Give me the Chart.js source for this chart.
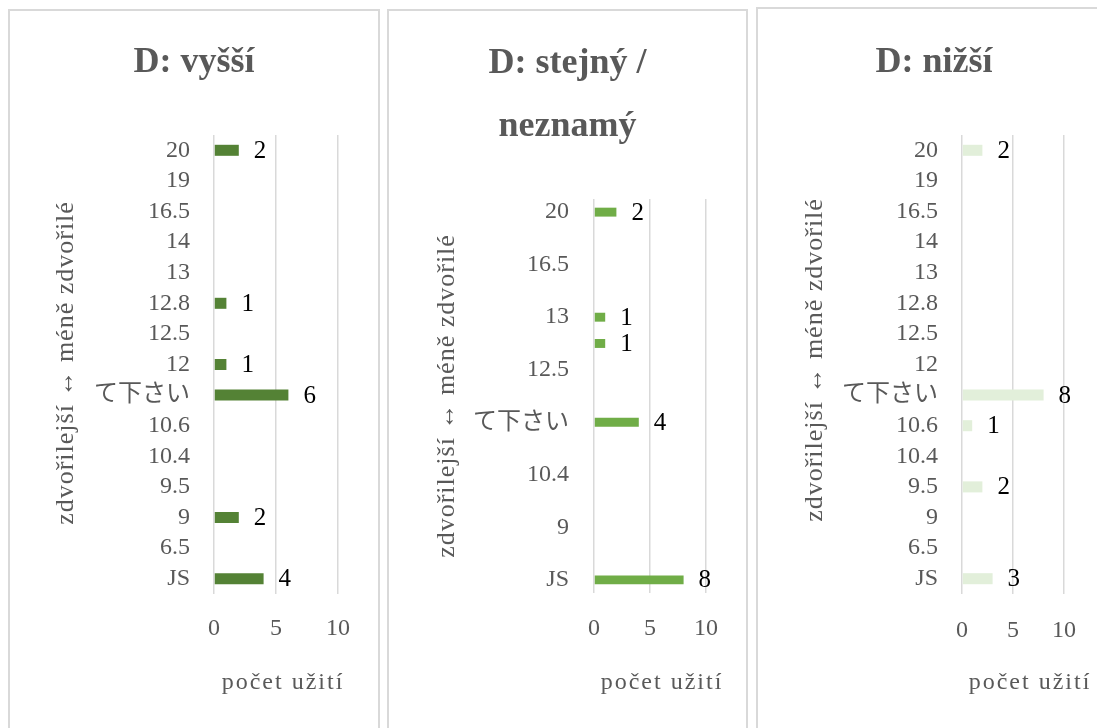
<!DOCTYPE html>
<html>
<head>
<meta charset="utf-8">
<script src="https://cdn.jsdelivr.net/npm/chart.js@4/dist/chart.umd.min.js"></script>
<style>
  body { margin: 0; background: #fff; overflow: hidden; width: 1097px; height: 728px; position: relative; }
  .panel { position: absolute; border: 2px solid #d9d9d9; }
  canvas { display: block; }
</style>
</head>
<body>
<div class="panel" style="left:8px;top:9px;"><canvas id="chartHigher" width="368" height="717"></canvas></div>
<div class="panel" style="left:387px;top:9px;"><canvas id="chartSame" width="357" height="717"></canvas></div>
<div class="panel" style="left:756px;top:7px;"><canvas id="chartLower" width="352" height="719"></canvas></div>
<script>
// categories (top to bottom) and usage counts for each group
const categories = ['20', '19', '16.5', '14', '13', '12.8', '12.5', '12', 'て下さい', '10.6', '10.4', '9.5', '9', '6.5', 'JS'];
const higherValues = [2, 0, 0, 0, 0, 1, 0, 1, 6, 0, 0, 0, 2, 0, 4];
const sameValues = [2, 0, 0, 0, 1, 1, 0, 0, 4, 0, 0, 0, 0, 0, 8];
const lowerValues = [2, 0, 0, 0, 0, 0, 0, 0, 8, 1, 0, 2, 0, 0, 3];
const xTicks = [0, 5, 10];

const titles = [['D: vyšší'], ['D: stejný /', 'neznamý'], ['D: nižší']];
const xTitle = 'počet užití';
const yTitle = 'zdvořilejší ↔ méně zdvořilé';

const serif = "'Liberation Serif', 'Noto Sans CJK JP', serif";
const grey = '#595959';

// value labels next to each bar
const valueLabels = {
  id: 'valueLabels',
  afterDatasetsDraw(chart) {
    const ctx = chart.ctx;
    const meta = chart.getDatasetMeta(0);
    const data = chart.data.datasets[0].data;
    ctx.save();
    ctx.font = '25px ' + serif;
    ctx.fillStyle = '#000';
    ctx.textAlign = 'left';
    ctx.textBaseline = 'middle';
    meta.data.forEach((bar, i) => {
      if (!data[i]) return;
      ctx.fillText(String(data[i]), bar.x + 15, bar.y + 1);
    });
    ctx.restore();
  }
};

// chart title and axis titles, drawn by hand so they sit where the original has them
const panelText = {
  id: 'panelText',
  afterDraw(chart, args, opts) {
    const ctx = chart.ctx;
    ctx.save();
    ctx.fillStyle = grey;
    ctx.textAlign = 'center';
    ctx.textBaseline = 'middle';

    ctx.font = 'bold 36px ' + serif;
    opts.title.forEach((line, i) => {
      ctx.fillText(line, chart.width / 2, opts.titleY + i * 63);
    });

    ctx.font = '24px ' + serif;
    ctx.letterSpacing = '2px';
    ctx.fillText(xTitle, opts.xTitleX, opts.xTitleY);

    ctx.translate(opts.yTitleX, opts.yTitleY);
    ctx.rotate(-Math.PI / 2);
    ctx.font = '26px ' + serif;
    ctx.letterSpacing = '1px';
    ctx.fillText(yTitle, 0, 0);
    ctx.restore();
  }
};

const makeChart = (id, cfg) => {
  new Chart(document.getElementById(id), {
    type: 'bar',
    data: {
      labels: categories,
      datasets: [{
        data: cfg.values,
        backgroundColor: cfg.color,
        barPercentage: cfg.barPct,
        categoryPercentage: 1
      }]
    },
    plugins: [valueLabels, panelText],
    options: {
      indexAxis: 'y',
      responsive: false,
      animation: false,
      layout: { padding: { left: 0, right: cfg.right, top: cfg.top, bottom: 0 } },
      plugins: {
        legend: { display: false },
        tooltip: { enabled: false },
        title: { display: false },
        panelText: cfg.text
      },
      scales: {
        x: {
          min: 0,
          max: 10,
          afterBuildTicks: (scale) => { scale.ticks = xTicks.map(v => ({ value: v })); },
          afterFit: (scale) => { scale.height = cfg.xHeight; },
          grid: { color: '#d9d9d9', lineWidth: 1.5, drawTicks: false },
          border: { display: false },
          ticks: { color: grey, font: { family: serif, size: 24 }, padding: cfg.xPad }
        },
        y: {
          afterFit: (scale) => { scale.width = cfg.yWidth; },
          grid: { display: false, drawTicks: false },
          border: { display: false },
          ticks: {
            color: grey,
            autoSkip: false,
            font: { family: serif, size: 24 },
            padding: cfg.yPad,
            callback: function(value, index) {
              if (cfg.every && index % cfg.every !== 0) return '';
              return this.getLabelForValue(value);
            }
          }
        }
      }
    }
  });
};

makeChart('chartHigher', {
  values: higherValues, color: '#548235', barPct: 0.36,
  right: 40, top: 124, yWidth: 204, xHeight: 134, xPad: 20, yPad: 24,
  text: { title: titles[0], titleY: 52, xTitleX: 273, xTitleY: 672, yTitleX: 56, yTitleY: 352 }
});

makeChart('chartSame', {
  values: sameValues, color: '#70ad47', barPct: 0.34, every: 2,
  right: 40, top: 188, yWidth: 205, xHeight: 135, xPad: 21, yPad: 25,
  text: { title: titles[1], titleY: 53, xTitleX: 273, xTitleY: 672, yTitleX: 58, yTitleY: 385 }
});

makeChart('chartLower', {
  values: lowerValues, color: '#e2efda', barPct: 0.36,
  right: 46, top: 126, yWidth: 204, xHeight: 134, xPad: 22, yPad: 24,
  text: { title: titles[2], titleY: 54, xTitleX: 272, xTitleY: 674, yTitleX: 57, yTitleY: 351 }
});
</script>
</body>
</html>
